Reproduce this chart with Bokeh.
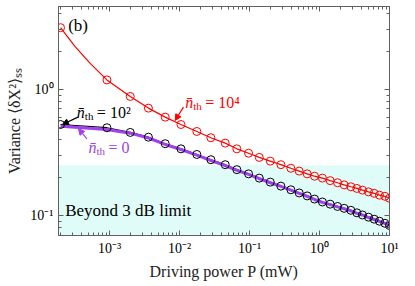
from bokeh.plotting import figure
from bokeh.models import (LogAxis, FixedTicker, CustomJSTickFormatter, Label, Arrow,
                          NormalHead, Range1d, BoxAnnotation)
from bokeh.embed import file_html
from bokeh.resources import INLINE

# ---- data ----
P = [2.0e-4, 9.2e-4, 1.98e-3, 3.6e-3, 6.25e-3, 1.05e-2, 1.77e-2, 2.81e-2, 4.5e-2, 6.6e-2,
     9.7e-2, 0.138, 0.198, 0.281, 0.39, 0.513, 0.667, 0.849, 1.10, 1.42,
     1.81, 2.25, 2.81, 3.42, 4.11, 5.01, 6.04, 7.19, 8.59, 10.0]
var_n1e4 = [3.09, 1.19, 0.880, 0.711, 0.603, 0.527, 0.464, 0.414, 0.375, 0.338,
            0.312, 0.289, 0.270, 0.253, 0.237, 0.225, 0.214, 0.205, 0.198, 0.189,
            0.182, 0.175, 0.169, 0.164, 0.159, 0.154, 0.150, 0.145, 0.142, 0.137]
var_n1e2 = [0.527, 0.497, 0.456, 0.418, 0.371, 0.338, 0.305, 0.277, 0.253, 0.231,
            0.214, 0.198, 0.184, 0.171, 0.160, 0.151, 0.143, 0.135, 0.128, 0.123,
            0.118, 0.114, 0.110, 0.105, 0.101, 0.0970, 0.0935, 0.0901, 0.0868, 0.0833]
var_n0 = [0.511, 0.482, 0.450, 0.412, 0.366, 0.334, 0.301, 0.273, 0.249, 0.228,
          0.212, 0.196, 0.182, 0.170, 0.159, 0.150, 0.142, 0.134, 0.127, 0.122,
          0.117, 0.113, 0.109, 0.104, 0.101, 0.0964, 0.0930, 0.0897, 0.0865, 0.0830]
# extra curve samples for the red line between the first markers
P_red_extra = [3.23e-4, 5.3e-4]
var_red_extra = [2.19, 1.61]
limit_3dB = 0.25

x_major = [1e-3, 1e-2, 1e-1, 1e0, 1e1]
x_minor = [m * 10.0 ** e for e in range(-4, 1) for m in range(2, 10)]
y_major = [1e-1, 1e0]
y_minor = [m * 10.0 ** e for e in range(-2, 1) for m in range(2, 10)]

SERIF = "Liberation Serif"
RED = "#ff0000"
PURPLE = "#a040f0"
AXC = "#606060"

p = figure(frame_width=331, frame_height=229, x_axis_type="log", y_axis_type="log",
           x_range=Range1d(1.87e-4, 10.0), y_range=Range1d(0.0694, 4.55),
           output_backend="svg", toolbar_location=None,
           min_border_left=58, min_border_right=24, min_border_top=6, min_border_bottom=44)
p.grid.visible = False
p.outline_line_color = AXC
p.background_fill_color = "white"
p.border_fill_color = "white"

sup_js = """
const sup = {"-":"\\u207b","0":"\\u2070","1":"\\u00b9","2":"\\u00b2","3":"\\u00b3",
             "4":"\\u2074","5":"\\u2075","6":"\\u2076","7":"\\u2077","8":"\\u2078","9":"\\u2079"};
const e = Math.round(Math.log10(tick));
return "10" + String(e).split("").map(c => sup[c]).join("");
"""
fmt = CustomJSTickFormatter(code=sup_js)
blank = CustomJSTickFormatter(code="return '';")

def style(ax, ticks, minor, labels=True):
    ax.ticker = FixedTicker(ticks=ticks, minor_ticks=minor)
    ax.formatter = fmt if labels else blank
    ax.major_tick_in = 5
    ax.major_tick_out = 0
    ax.minor_tick_in = 3
    ax.minor_tick_out = 0
    ax.axis_line_color = AXC
    ax.major_tick_line_color = AXC
    ax.minor_tick_line_color = AXC
    ax.major_label_text_font = SERIF
    ax.major_label_text_font_size = "14px" if labels else "0px"
    ax.major_label_text_color = "black"
    ax.major_label_standoff = 5 if labels else 0

style(p.xaxis[0], x_major, x_minor)
style(p.yaxis[0], y_major, y_minor)
p.xaxis[0].axis_label = "Driving power P (mW)"
p.yaxis[0].axis_label = "Variance \u27e8\u03b4X\u00b2\u27e9\u209b\u209b"
for ax in (p.xaxis[0], p.yaxis[0]):
    ax.axis_label_text_font = SERIF
    ax.axis_label_text_font_size = "16px"
    ax.axis_label_text_font_style = "normal"
    ax.axis_label_text_color = "#222222"
    ax.axis_label_standoff = 4
p.xaxis[0].level = "overlay"

top = LogAxis()
style(top, x_major, x_minor, labels=False)
p.add_layout(top, "above")
right = LogAxis()
style(right, y_major, y_minor, labels=False)
p.add_layout(right, "right")

# beyond 3 dB region
p.add_layout(BoxAnnotation(top=limit_3dB, fill_color="#e0fcf8", fill_alpha=1.0,
                           line_color=None, level="underlay"))

# curves
red_line_P = [P[0]] + P_red_extra + P[1:]
red_line_V = [var_n1e4[0]] + var_red_extra + var_n1e4[1:]
p.line(P, var_n1e2, line_color="black", line_width=1.2)
p.line(P, var_n0, line_color=PURPLE, line_width=3)
p.scatter(P, var_n1e2, size=8, marker="circle", fill_color=None, line_color="black", line_width=1)
p.line(red_line_P, red_line_V, line_color=RED, line_width=1.2)
p.scatter(P, var_n1e4, size=8, marker="circle", fill_color=None, line_color=RED, line_width=1)

# annotations
def add_label(x, y, text, color="black", size="15px", style="normal", xo=0, yo=0):
    p.add_layout(Label(x=x, y=y, text=text, text_color=color, text_font=SERIF,
                       text_font_size=size, text_font_style=style, text_baseline="middle",
                       text_align="left", x_offset=xo, y_offset=yo))

def nth_label(x, y, rhs, color):
    add_label(x, y, "n\u0304", color, "16px", "italic")
    add_label(x, y, "th", color, "11px", "normal", xo=8, yo=-4)
    add_label(x, y, rhs, color, "16px", "normal", xo=20)

add_label(2.57e-4, 3.22, "(b)", "black", "17px")
nth_label(3.42e-4, 0.660, "= 10\u00b2", "black")
nth_label(1.205e-2, 0.793, "= 10\u2074", RED)
nth_label(5.01e-4, 0.348, "= 0", PURPLE)
add_label(2.33e-4, 0.1086, "Beyond 3 dB limit", "black", "17px")

for (x0, y0, x1, y1, c) in [(3.54e-4, 0.603, 2.13e-4, 0.527, "black"),
                            (1.14e-2, 0.724, 8.68e-3, 0.568, RED),
                            (4.76e-4, 0.406, 3.61e-4, 0.488, PURPLE)]:
    p.add_layout(Arrow(x_start=x0, y_start=y0, x_end=x1, y_end=y1, line_color=c, line_width=1.2,
                       end=NormalHead(size=6, fill_color=c, line_color=c)))

open("out.html", "w").write(file_html(p, INLINE))
